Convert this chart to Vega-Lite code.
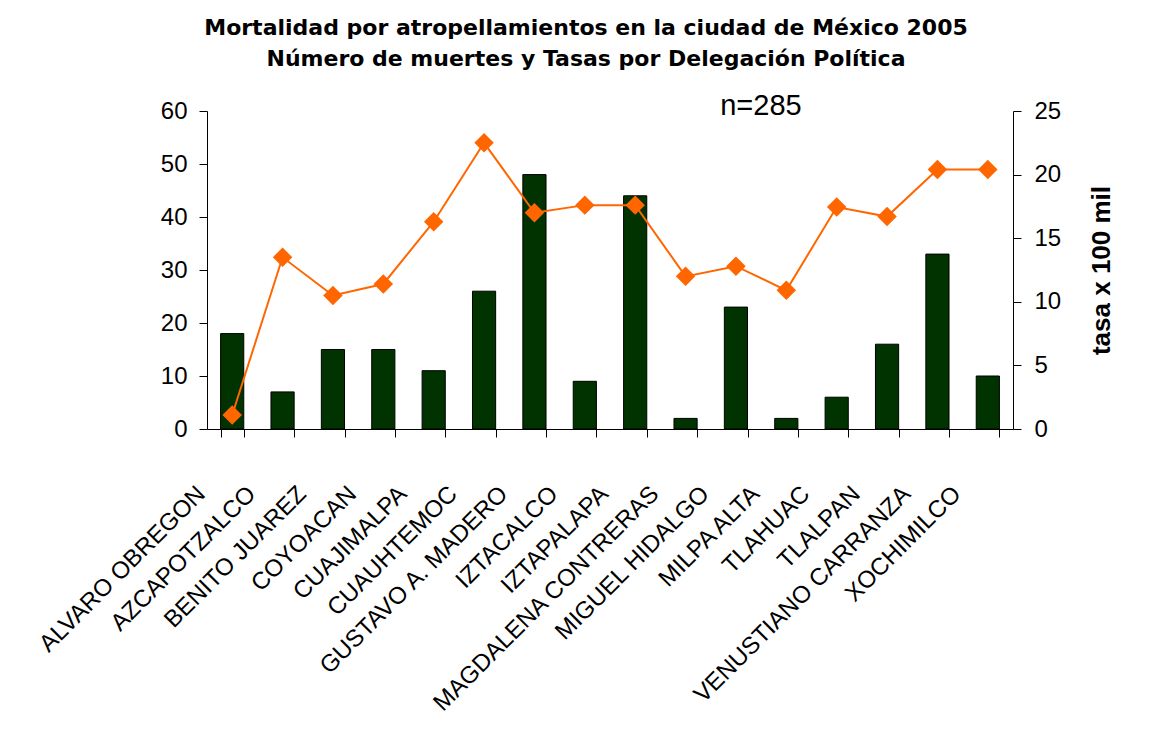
{
  "$schema": "https://vega.github.io/schema/vega-lite/v6.json",
  "width": 806,
  "height": 318,
  "autosize": {"type": "none"},
  "padding": {"left": 207, "top": 111, "right": 136, "bottom": 309},
  "background": "white",
  "config": {"view": {"stroke": null}, "font": "Liberation Sans"},
  "title": {
    "text": ["Mortalidad por atropellamientos en la ciudad de México 2005", "Número de muertes y Tasas por Delegación Política"],
    "font": "DejaVu Sans",
    "fontSize": 22,
    "fontWeight": "bold",
    "color": "black",
    "lineHeight": 31,
    "anchor": "middle",
    "frame": "group",
    "dx": -24,
    "offset": 21
  },
  "data": {
    "values": [
      {"delegacion": "ALVARO OBREGON", "muertes": 18, "tasa": 1.1},
      {"delegacion": "AZCAPOTZALCO", "muertes": 7, "tasa": 13.5},
      {"delegacion": "BENITO JUAREZ", "muertes": 15, "tasa": 10.5},
      {"delegacion": "COYOACAN", "muertes": 15, "tasa": 11.4},
      {"delegacion": "CUAJIMALPA", "muertes": 11, "tasa": 16.3},
      {"delegacion": "CUAUHTEMOC", "muertes": 26, "tasa": 22.5},
      {"delegacion": "GUSTAVO A. MADERO", "muertes": 48, "tasa": 17.0},
      {"delegacion": "IZTACALCO", "muertes": 9, "tasa": 17.6},
      {"delegacion": "IZTAPALAPA", "muertes": 44, "tasa": 17.6},
      {"delegacion": "MAGDALENA CONTRERAS", "muertes": 2, "tasa": 12.0},
      {"delegacion": "MIGUEL HIDALGO", "muertes": 23, "tasa": 12.8},
      {"delegacion": "MILPA ALTA", "muertes": 2, "tasa": 10.9},
      {"delegacion": "TLAHUAC", "muertes": 6, "tasa": 17.45},
      {"delegacion": "TLALPAN", "muertes": 16, "tasa": 16.7},
      {"delegacion": "VENUSTIANO CARRANZA", "muertes": 33, "tasa": 20.4},
      {"delegacion": "XOCHIMILCO", "muertes": 10, "tasa": 20.4}
    ]
  },
  "encoding": {
    "x": {
      "field": "delegacion",
      "type": "nominal",
      "sort": null,
      "scale": {"paddingInner": 0.54, "paddingOuter": 0.27},
      "axis": {
        "title": null,
        "labelAngle": -45,
        "labelAlign": "right",
        "labelBaseline": "middle",
        "labelOffset": -31,
        "labelPadding": 53,
        "labelFont": "Liberation Sans",
        "labelFontSize": 24,
        "labelColor": "black",
        "labelLimit": 0,
        "labelOverlap": false,
        "tickBand": "extent",
        "tickColor": "black",
        "tickSize": 8,
        "domainColor": "black",
        "grid": false
      }
    }
  },
  "layer": [
    {
      "layer": [
        {
          "mark": {"type": "bar", "fill": "#003300", "stroke": "black", "strokeWidth": 1},
          "encoding": {
            "y": {
              "field": "muertes",
              "type": "quantitative",
              "scale": {"domain": [0, 60], "nice": false},
              "axis": {
                "title": null,
                "values": [0, 10, 20, 30, 40, 50, 60],
                "grid": false,
                "labelFont": "Liberation Sans",
                "labelFontSize": 24,
                "labelColor": "black",
                "labelPadding": 12,
                "tickColor": "black",
                "tickSize": 8,
                "domainColor": "black"
              }
            }
          }
        },
        {
          "data": {"values": [{"texto": "n=285", "pos": "MIGUEL HIDALGO", "alto": 61}]},
          "mark": {"type": "text", "font": "Liberation Sans", "fontSize": 29, "color": "black", "baseline": "middle", "align": "center", "dx": 25},
          "encoding": {
            "x": {"field": "pos", "type": "nominal", "sort": null},
            "y": {"field": "alto", "type": "quantitative", "scale": {"domain": [0, 60], "nice": false}},
            "text": {"field": "texto"}
          }
        }
      ]
    },
    {
      "mark": {
        "type": "line",
        "color": "#FF6600",
        "strokeWidth": 2,
        "point": {"shape": "diamond", "size": 380, "filled": true, "color": "#FF6600", "opacity": 1}
      },
      "encoding": {
        "y": {
          "field": "tasa",
          "type": "quantitative",
          "scale": {"domain": [0, 25], "nice": false},
          "axis": {
            "orient": "right",
            "title": "tasa x 100 mil",
            "titleFont": "Liberation Sans",
            "titleFontSize": 26,
            "titleFontWeight": "bold",
            "titleColor": "black",
            "titleAngle": 270,
            "titleBaseline": "top",
            "titlePadding": 28,
            "values": [0, 5, 10, 15, 20, 25],
            "grid": false,
            "labelFont": "Liberation Sans",
            "labelFontSize": 24,
            "labelColor": "black",
            "labelPadding": 13,
            "tickColor": "black",
            "tickSize": 8,
            "domainColor": "black"
          }
        }
      }
    }
  ],
  "resolve": {"scale": {"y": "independent"}}
}
